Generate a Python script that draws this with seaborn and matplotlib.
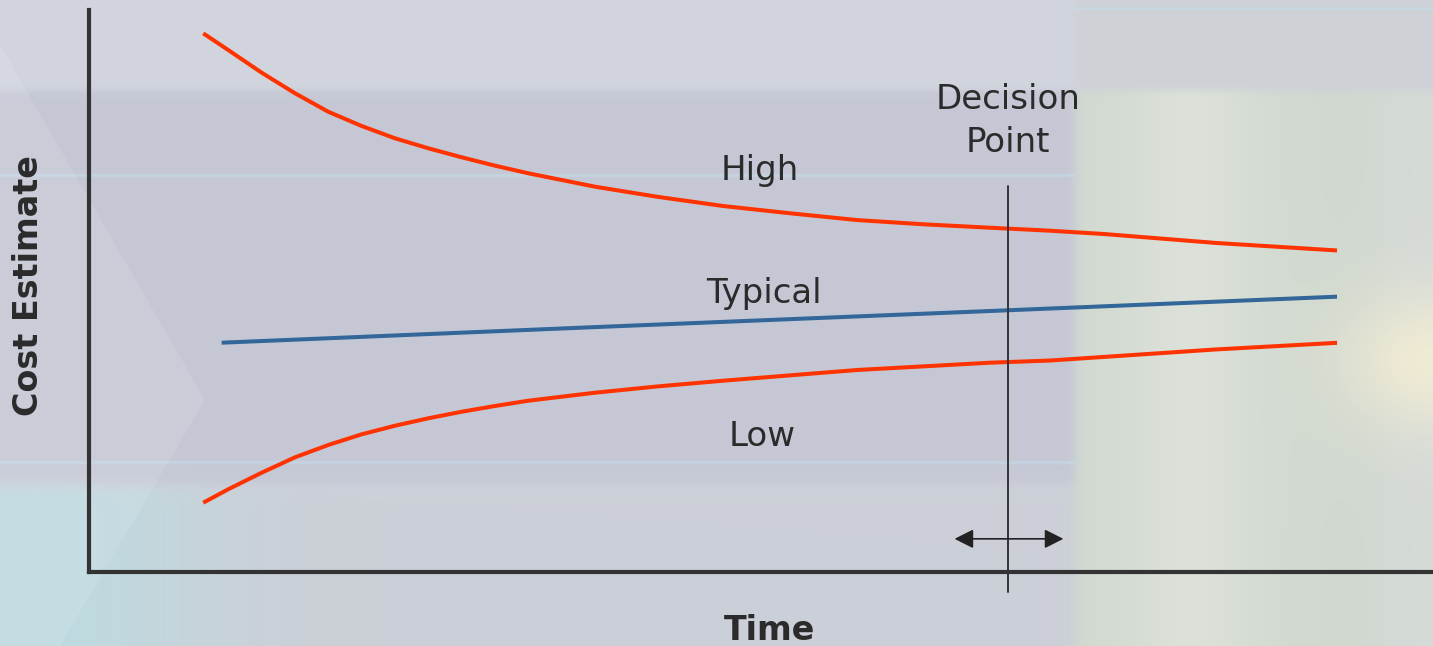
import numpy as np
import pandas as pd
import matplotlib
matplotlib.use("Agg")
import matplotlib.pyplot as plt
import seaborn as sns

# Cost estimate envelopes over time (arbitrary units, 0-100 on each axis)
time_high = [8.50, 10.36, 12.85, 15.33, 17.80, 20.29, 22.77, 25.25, 27.73, 30.21,
             32.69, 35.17, 37.65, 42.24, 47.19, 52.16, 57.12, 62.08, 67.04, 71.50,
             75.52, 83.91, 92.86]
cost_high = [95.85, 92.88, 88.84, 85.18, 81.90, 79.36, 77.17, 75.39, 73.79, 72.30,
             70.94, 69.75, 68.56, 66.78, 65.12, 63.83, 62.63, 61.87, 61.26, 60.73,
             60.14, 58.54, 57.21]

time_typical = [9.87, 37.28, 67.04, 92.86]
cost_typical = [40.80, 43.54, 46.44, 48.99]

time_low = [8.50, 10.36, 12.85, 15.33, 17.80, 20.29, 22.77, 25.25, 27.73, 30.21,
            32.69, 35.17, 37.65, 42.24, 47.19, 57.12, 67.04, 71.50, 83.91, 92.86]
cost_low = [12.33, 14.72, 17.67, 20.41, 22.60, 24.50, 26.03, 27.35, 28.52, 29.54,
            30.48, 31.19, 31.90, 33.01, 34.04, 35.94, 37.24, 37.63, 39.61, 40.78]

series_names = ["High", "Typical", "Low"]
decision_time = 68.4

df = pd.concat([
    pd.DataFrame({"Time": time_high, "Cost": cost_high, "Series": "High"}),
    pd.DataFrame({"Time": time_typical, "Cost": cost_typical, "Series": "Typical"}),
    pd.DataFrame({"Time": time_low, "Cost": cost_low, "Series": "Low"}),
], ignore_index=True)

palette = {"High": "#ff3300", "Typical": "#336699", "Low": "#ff3300"}
ink = "#2b2b2b"

sns.set_style("white")
plt.rcParams["font.family"] = ["DejaVu Sans"]

W, H = 1433, 646
fig = plt.figure(figsize=(W / 100, H / 100), dpi=100)

# ---- soft slide-style backdrop ----
X, Y = np.meshgrid(np.arange(W, dtype=float), np.arange(H, dtype=float))

def step(v, c, w):
    return 1.0 / (1.0 + np.exp(-(v - c) / w))

def blend(img, color, weight):
    w = weight[..., None]
    return img * (1 - w) + np.array(color)[None, None, :] * w

bg = np.ones((H, W, 3)) * np.array([0.82, 0.835, 0.87])
band = step(Y, 90, 2) * (1 - step(Y, 488, 4))
bg = blend(bg, [0.775, 0.785, 0.835], band)
bottom = step(Y, 488, 4)
bg = blend(bg, [0.80, 0.815, 0.845], bottom)
bg = blend(bg, [0.74, 0.86, 0.88], bottom * (1 - step(X, 170, 50)))
right = step(X, 1075, 3)
bg = blend(bg, [0.81, 0.82, 0.84], right * (1 - step(Y, 90, 2)))
bg = blend(bg, [0.82, 0.85, 0.815], right * step(Y, 90, 2))
bg = blend(bg, [0.87, 0.89, 0.86], 0.8 * right * step(Y, 90, 2) * np.exp(-((X - 1190) / 70) ** 2))
bg = blend(bg, [0.85, 0.86, 0.87], step(X, 1390, 15) * step(Y, 90, 2) * 0.6)
bg = blend(bg, [0.94, 0.92, 0.83], np.exp(-(((X - 1433) / 90) ** 2 + ((Y - 360) / 70) ** 2)))
# faint light-cyan rules
for yy, x0, x1 in [(175, 0, 1075), (462, 0, 1075), (8, 1075, W)]:
    m = np.exp(-((Y - yy) / 1.5) ** 2) * (X >= x0) * (X <= x1)
    bg = blend(bg, [0.76, 0.87, 0.92], 0.6 * m)
bg = np.clip(bg, 0, 1)

bg_ax = fig.add_axes([0, 0, 1, 1], zorder=0)
bg_ax.imshow(bg, aspect="auto", extent=(0, W, H, 0), interpolation="bilinear")
bg_ax.fill([0, 205, 60, 0], [45, 400, 646, 646], color="white", alpha=0.10, lw=0)
bg_ax.set_xlim(0, W)
bg_ax.set_ylim(H, 0)
bg_ax.axis("off")

# ---- main chart ----
ax = fig.add_axes([89 / W, (H - 572) / H, (W - 89) / W, 562 / H], zorder=1)
ax.set_facecolor("none")

for name in series_names:
    sub = df[df["Series"] == name]
    sns.lineplot(data=sub, x="Time", y="Cost", color=palette[name], lw=2.9,
                 ax=ax, legend=False, sort=True, estimator=None,
                 solid_capstyle="butt", solid_joinstyle="round")

ax.set_xlim(0, 100)
ax.set_ylim(0, 100)
ax.set_xticks([])
ax.set_yticks([])
ax.set_xlabel("")
ax.set_ylabel("")
for side in ["top", "right"]:
    ax.spines[side].set_visible(False)
for side in ["left", "bottom"]:
    ax.spines[side].set_linewidth(3)
    ax.spines[side].set_color("#333333")
    ax.spines[side].set_capstyle("projecting")

# decision point marker
ax.plot([decision_time, decision_time], [68.7, -3.6], color="#333333", lw=1.4,
        clip_on=False, zorder=3)
ax.annotate("", xy=(64.4, 5.9), xytext=(72.5, 5.9),
            arrowprops=dict(arrowstyle="<|-|>,head_length=1.15,head_width=0.58",
                            color="#222222", lw=1.2, shrinkA=0, shrinkB=0,
                            mutation_scale=10))

label_kw = dict(ha="center", va="baseline", fontsize=24.5, color=ink)
ax.text(49.9, 69.8, "High", **label_kw)
ax.text(50.2, 47.9, "Typical", **label_kw)
ax.text(50.1, 22.4, "Low", **label_kw)
ax.text(decision_time, 82.4, "Decision", **label_kw)
ax.text(decision_time, 74.7, "Point", **label_kw)

fig.text(770 / W, 1 - 640 / H, "Time", ha="center", va="baseline",
         fontsize=24, fontweight="bold", color=ink)
fig.text(29 / W, 1 - 286 / H, "Cost Estimate", ha="center", va="center",
         rotation=90, fontsize=24, fontweight="bold", color=ink)

fig.savefig("out.png", dpi=100)
